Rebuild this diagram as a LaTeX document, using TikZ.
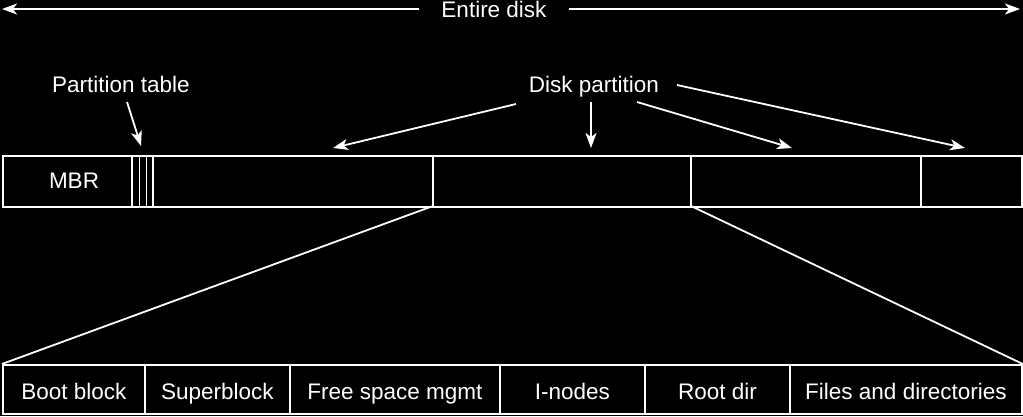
\documentclass[tikz,border=0pt]{standalone}
\usepackage{fontspec}
\setmainfont{Liberation Sans}
\usetikzlibrary{arrows.meta}
\begin{document}
\begin{tikzpicture}[x=1pt,y=-1pt,
  every node/.style={text=white,font=\fontsize{22.5}{27}\selectfont},
  lbl/.style={anchor=base,inner sep=0pt},
  ln/.style={draw=white,line width=1.8pt},
  arr/.style={ln,-{Stealth[length=15pt,width=11pt,inset=4pt]}},
  box/.style={draw=white,line width=1.8pt,inner sep=0pt,anchor=north west}]
\fill[black] (0,0) rectangle (1023,416);
\useasboundingbox (0,0) rectangle (1023,416);
% Entire disk
\node[lbl] (entire) at (494,17) {Entire disk};
\coordinate (el) at (419,9);
\coordinate (elend) at (2,9);
\coordinate (er) at (569,9);
\coordinate (erend) at (1020,9);
\draw[arr] (el) -- (elend);
\draw[arr] (er) -- (erend);
% disk bar
\node[box,minimum width=1019pt,minimum height=51pt] (disk) at (2,155) {};
\node[lbl] (mbr) at (74,188) {MBR};
\foreach \x in {132,139.5,146.5,153}{\draw[ln] (\x,155) -- (\x,206);}
\coordinate (d1t) at (433,155); \coordinate (d1b) at (433,206);
\coordinate (d2t) at (691,155); \coordinate (d2b) at (691,206);
\coordinate (d3t) at (921,155); \coordinate (d3b) at (921,206);
\draw[ln] (d1t) -- (d1b);
\draw[ln] (d2t) -- (d2b);
\draw[ln] (d3t) -- (d3b);
% labels
\node[lbl] (pt) at (121,92) {Partition table};
\coordinate (ptstart) at (127,102);
\coordinate (ptend) at (141,146);
\draw[arr] (ptstart) -- (ptend);
\node[lbl] (dp) at (594,92) {Disk partition};
\coordinate (s1) at (516,104); \coordinate (p1) at (333,148);
\coordinate (s2) at (591,102); \coordinate (p2) at (591,148);
\coordinate (s3) at (637,102); \coordinate (p3) at (792,148);
\coordinate (s4) at (677,85);  \coordinate (p4) at (965,148);
\draw[arr] (s1) -- (p1);
\draw[arr] (s2) -- (p2);
\draw[arr] (s3) -- (p3);
\draw[arr] (s4) -- (p4);
% bottom bar
\node[box,minimum width=142pt,minimum height=49pt] (boot) at (2,364) {};
\node[box,minimum width=145pt,minimum height=49pt] (super) at (144,364) {};
\node[box,minimum width=210pt,minimum height=49pt] (free) at (289,364) {};
\node[box,minimum width=145pt,minimum height=49pt] (inodes) at (499,364) {};
\node[box,minimum width=145pt,minimum height=49pt] (root) at (644,364) {};
\node[box,minimum width=232pt,minimum height=49pt] (files) at (789,364) {};
\coordinate (bl) at (0,399);
\node[lbl] (tboot) at (boot.center |- bl) {Boot block};
\node[lbl] (tsuper) at (super.center |- bl) {Superblock};
\node[lbl] (tfree) at (free.center |- bl) {Free space mgmt};
\node[lbl] (tinodes) at (inodes.center |- bl) {I-nodes};
\node[lbl] (troot) at (root.center |- bl) {Root dir};
\node[lbl] (tfiles) at (files.center |- bl) {Files and directories};
% fan lines
\draw[ln] (d1b) -- (boot.north west);
\draw[ln] (d2b) -- (files.north east);
\end{tikzpicture}
\end{document}
